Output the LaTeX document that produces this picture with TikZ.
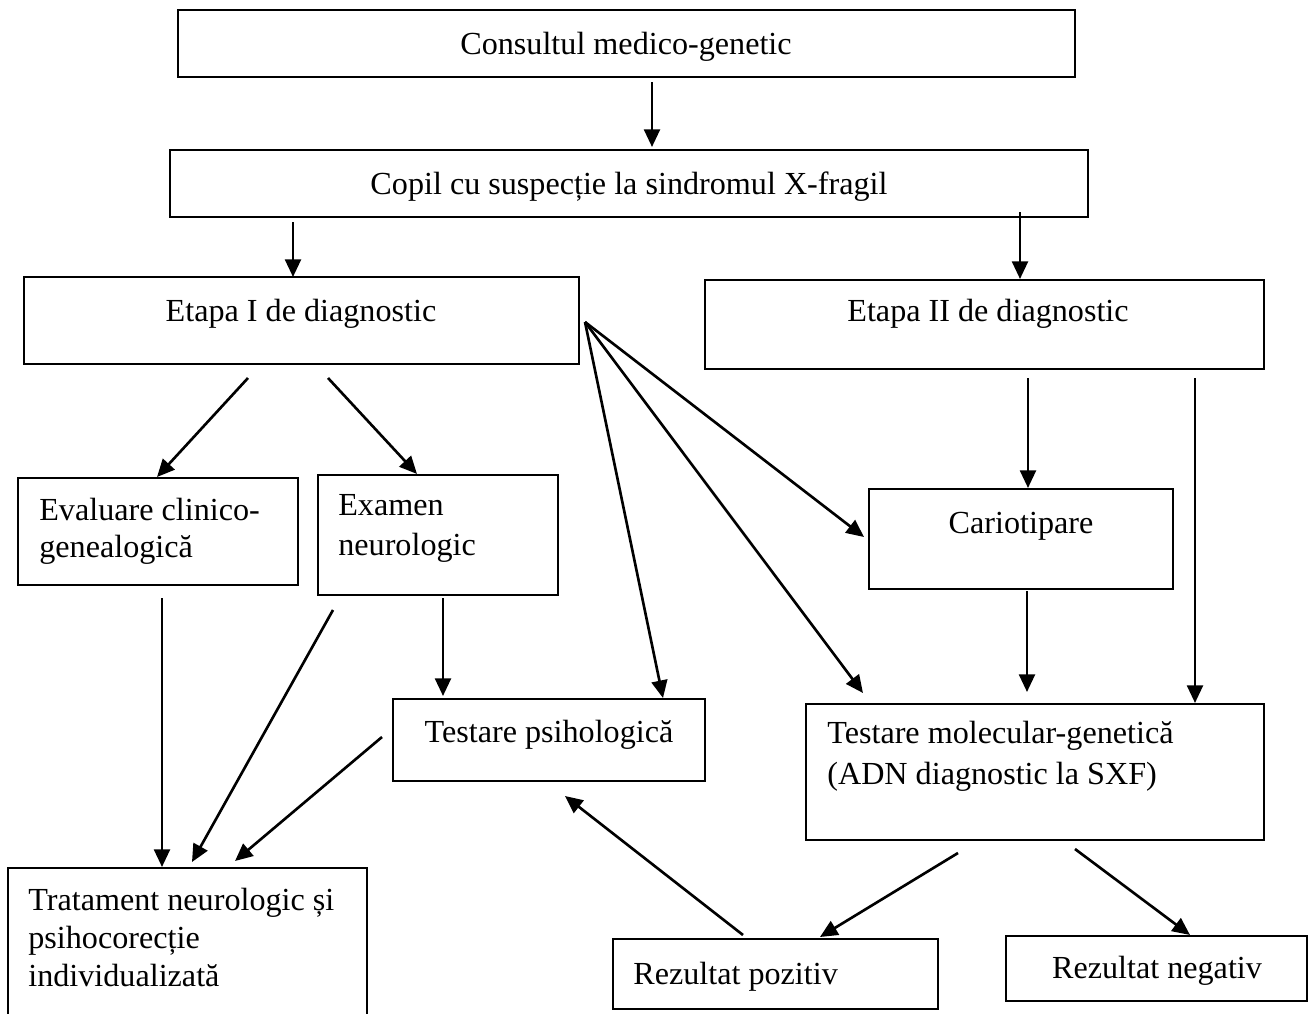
\documentclass[tikz,border=0pt]{standalone}
\usepackage{fontspec}
\setmainfont{Liberation Serif}
\usetikzlibrary{arrows.meta,fit}
\begin{document}
\begin{tikzpicture}[x=0.02cm,y=-0.02cm,
  box/.style={draw, line width=0.75pt, inner sep=0pt},
  txt/.style={font=\fontsize{18.3}{22}\selectfont, inner sep=0pt},
  arr/.style={line width=1.5pt, -{Triangle[length=10pt,width=9pt]}}]
\useasboundingbox (0,0) rectangle (1309,1014);
% boxes
\node[box, fit={(178,10) (1075,77)}] (consult) {};
\node[box, fit={(170,150) (1088,217)}] (copil) {};
\node[box, fit={(24,277) (579,364)}] (etapa1) {};
\node[box, fit={(705,280) (1264,369)}] (etapa2) {};
\node[box, fit={(18,478) (298,585)}] (evaluare) {};
\node[box, fit={(318,475) (558,595)}] (examen) {};
\node[box, fit={(869,489) (1173,589)}] (cario) {};
\node[box, fit={(393,699) (705,781)}] (tpsih) {};
\node[box, fit={(806,704) (1264,840)}] (tmol) {};
\node[box, fit={(8,868) (367,1030)}] (trat) {};
\node[box, fit={(613,939) (938,1009)}] (rpoz) {};
\node[box, fit={(1006,936) (1307,1001)}] (rneg) {};
% texts
\node[txt, anchor=base] (t1) at (626,54) {Consultul medico-genetic};
\node[txt, anchor=base] (t2) at (629,194) {Copil cu suspecție la sindromul X-fragil};
\node[txt, anchor=base] (t3) at (301,321) {Etapa I de diagnostic};
\node[txt, anchor=base] (t4) at (988,321) {Etapa II de diagnostic};
\node[txt, anchor=base west] (t5a) at (39,520) {Evaluare clinico-};
\node[txt, anchor=base west] (t5b) at (39,557) {genealogică};
\node[txt, anchor=base west] (t6a) at (338,515) {Examen};
\node[txt, anchor=base west] (t6b) at (338,555) {neurologic};
\node[txt, anchor=base] (t7) at (1021,533) {Cariotipare};
\node[txt, anchor=base] (t8) at (549,742) {Testare psihologică};
\node[txt, anchor=base west] (t9a) at (827,743) {Testare molecular-genetică};
\node[txt, anchor=base west] (t9b) at (827,784) {(ADN diagnostic la SXF)};
\node[txt, anchor=base west] (t10a) at (28,910) {Tratament neurologic și};
\node[txt, anchor=base west] (t10b) at (28,948) {psihocorecție};
\node[txt, anchor=base west] (t10c) at (28,986) {individualizată};
\node[txt, anchor=base west] (t11) at (633,984) {Rezultat pozitiv};
\node[txt, anchor=base] (t12) at (1157,978) {Rezultat negativ};
% connector end points
\coordinate (s1) at (652,82);   \coordinate (e1) at (652,147);
\coordinate (s2) at (293,222);  \coordinate (e2) at (293,277);
\coordinate (s3) at (1020,212); \coordinate (e3) at (1020,279);
\coordinate (s4) at (248,378);  \coordinate (e4) at (157,477);
\coordinate (s5) at (328,378);  \coordinate (e5) at (417,474);
\coordinate (hub) at (585,322);
\coordinate (e6) at (864,537);
\coordinate (e7) at (663,698);
\coordinate (e8) at (863,693);
\coordinate (s9) at (1028,378); \coordinate (e9) at (1028,488);
\coordinate (s10) at (1195,378);\coordinate (e10) at (1195,703);
\coordinate (s11) at (1027,591);\coordinate (e11) at (1027,692);
\coordinate (s12) at (162,598); \coordinate (e12) at (162,867);
\coordinate (s13) at (333,610); \coordinate (e13) at (192,862);
\coordinate (s14) at (443,598); \coordinate (e14) at (443,696);
\coordinate (s15) at (382,737); \coordinate (e15) at (235,861);
\coordinate (s16) at (743,935); \coordinate (e16) at (565,796);
\coordinate (s17) at (958,853); \coordinate (e17) at (820,937);
\coordinate (s18) at (1075,849);\coordinate (e18) at (1190,935);
% connectors
\draw[arr] (s1) -- (e1);
\draw[arr] (s2) -- (e2);
\draw[arr] (s3) -- (e3);
\draw[arr] (s4) -- (e4);
\draw[arr] (s5) -- (e5);
\draw[arr] (hub) -- (e6);
\draw[arr] (hub) -- (e7);
\draw[arr] (hub) -- (e8);
\draw[arr] (s9) -- (e9);
\draw[arr] (s10) -- (e10);
\draw[arr] (s11) -- (e11);
\draw[arr] (s12) -- (e12);
\draw[arr] (s13) -- (e13);
\draw[arr] (s14) -- (e14);
\draw[arr] (s15) -- (e15);
\draw[arr] (s16) -- (e16);
\draw[arr] (s17) -- (e17);
\draw[arr] (s18) -- (e18);
\end{tikzpicture}
\end{document}
